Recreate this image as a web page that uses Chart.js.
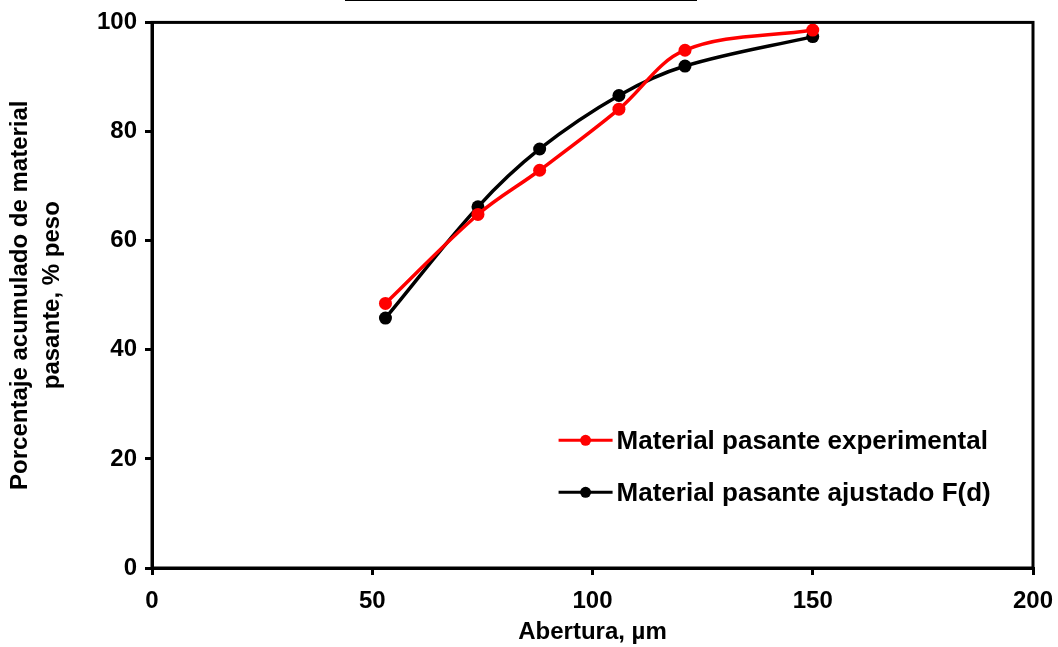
<!DOCTYPE html>
<html>
<head>
<meta charset="utf-8">
<script src="https://cdn.jsdelivr.net/npm/chart.js@4/dist/chart.umd.min.js"></script>
<style>
  html, body { margin: 0; padding: 0; background: #fff; }
  #wrap { position: relative; width: 1058px; height: 647px; }
  #topLine { position: absolute; left: 345px; top: 0; width: 352px; height: 0; border-top: 1px solid #000; }
</style>
</head>
<body>
<div id="wrap">
  <canvas id="myChart" width="1058" height="647"></canvas>
  <div id="topLine"></div>
</div>
<script>
'use strict';

// aberturas de tamiz (µm)
const aberturas = [53, 74, 88, 106, 121, 150];
const experimental = [48.5, 64.8, 72.9, 84.1, 94.9, 98.6];
const ajustado = [45.8, 66.2, 76.8, 86.6, 92.0, 97.4];
const seriesNames = ['Material pasante experimental', 'Material pasante ajustado F(d)'];
const seriesColors = ['#ff0000', '#000000'];
const xTitle = 'Abertura, µm';
const yTitle = ['Porcentaje acumulado de material', 'pasante, % peso'];

const FONT = 'Liberation Sans, Arial, sans-serif';

function toPoints(xs, ys) {
  let pts = [];
  for (let i = 0; i < xs.length; i++) {
    pts.push({x: xs[i], y: ys[i]});
  }
  return pts;
}

// caja completa alrededor del area de grafico
const boxPlugin = {
  id: 'box',
  afterDraw(chart) {
    const a = chart.chartArea;
    const ctx = chart.ctx;
    ctx.save();
    ctx.strokeStyle = '#000';
    ctx.lineWidth = 3;
    ctx.strokeRect(a.left, a.top, a.right - a.left, a.bottom - a.top);
    ctx.restore();
  }
};

// leyenda dentro del area de grafico
const legendPlugin = {
  id: 'insideLegend',
  afterDraw(chart) {
    const ctx = chart.ctx;
    const xs = chart.scales.x;
    const ys = chart.scales.y;
    const x0 = xs.getPixelForValue(92.3);
    let y0 = ys.getPixelForValue(23.4);
    ctx.save();
    chart.data.datasets.forEach((ds, i) => {
      const y = y0 + i * 52;
      ctx.strokeStyle = ds.borderColor;
      ctx.lineWidth = 3;
      ctx.beginPath();
      ctx.moveTo(x0, y);
      ctx.lineTo(x0 + 54, y);
      ctx.stroke();
      ctx.fillStyle = ds.borderColor;
      ctx.beginPath();
      ctx.arc(x0 + 27, y, 5.5, 0, Math.PI * 2);
      ctx.fill();
      ctx.fillStyle = '#000';
      ctx.font = 'bold 26px ' + FONT;
      ctx.textBaseline = 'middle';
      ctx.textAlign = 'left';
      ctx.fillText(ds.label, x0 + 58, y + 1);
    });
    ctx.restore();
  }
};

const ctx = document.getElementById('myChart').getContext('2d');
const myChart = new Chart(ctx, {
  type: 'line',
  data: {
    datasets: [{
      label: seriesNames[0],
      data: toPoints(aberturas, experimental),
      borderColor: seriesColors[0],
      backgroundColor: seriesColors[0],
      borderWidth: 3.5,
      pointRadius: 6.5,
      pointBorderWidth: 0,
      tension: 0.35,
    }, {
      label: seriesNames[1],
      data: toPoints(aberturas, ajustado),
      borderColor: seriesColors[1],
      backgroundColor: seriesColors[1],
      borderWidth: 3.5,
      pointRadius: 6.5,
      pointBorderWidth: 0,
      tension: 0.35,
    }]
  },
  options: {
    responsive: false,
    animation: false,
    layout: { padding: { top: 12, right: 25, left: 4, bottom: 0 } },
    plugins: {
      legend: { display: false },
      tooltip: { enabled: false }
    },
    scales: {
      x: {
        type: 'linear',
        min: 0,
        max: 200,
        afterFit(scale) {
          scale.height = 79;
          scale.paddingRight = 0;
          scale.paddingLeft = 0;
        },
        ticks: { stepSize: 50, color: '#000', font: { family: FONT, size: 24, weight: 'bold' }, padding: 12 },
        grid: { drawOnChartArea: false, drawTicks: true, tickLength: 7, color: '#000', lineWidth: 3 },
        border: { color: '#000', width: 3 },
        title: { display: true, text: xTitle, color: '#000', font: { family: FONT, size: 24, weight: 'bold' }, padding: { top: 0, bottom: 0 } }
      },
      y: {
        min: 0,
        max: 100,
        afterFit(scale) { scale.width = 148; },
        ticks: { stepSize: 20, color: '#000', font: { family: FONT, size: 24, weight: 'bold' }, padding: 8 },
        grid: { drawOnChartArea: false, drawTicks: true, tickLength: 7, color: '#000', lineWidth: 3 },
        border: { color: '#000', width: 3 },
        title: { display: true, text: yTitle, color: '#000', font: { family: FONT, size: 24, weight: 'bold', lineHeight: 1.35 }, padding: { top: 0, bottom: 21 } }
      }
    }
  },
  plugins: [boxPlugin, legendPlugin]
});
</script>
</body>
</html>
